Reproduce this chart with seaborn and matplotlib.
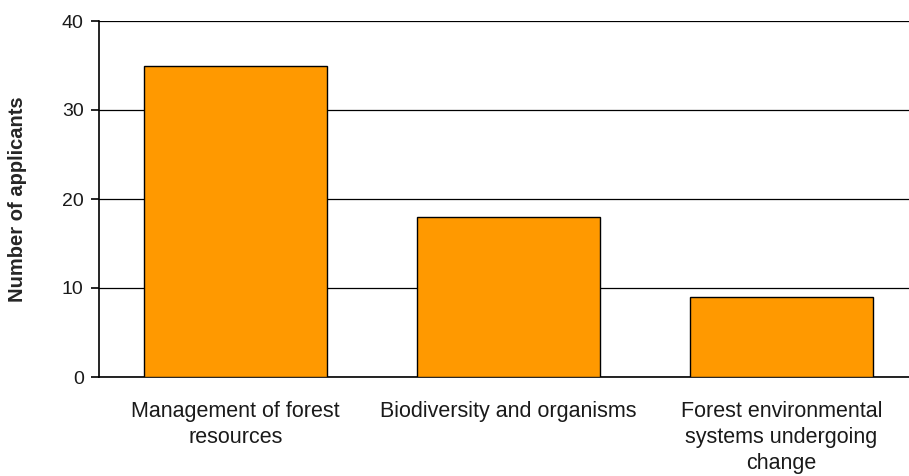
import matplotlib
matplotlib.use("Agg")
import matplotlib.pyplot as plt
import seaborn as sns

categories = ["Management of forest\nresources",
              "Biodiversity and organisms",
              "Forest environmental\nsystems undergoing\nchange"]
applicants = [35, 18, 9]
y_ticks = [0, 10, 20, 30, 40]

sns.set_style("white")
plt.rcParams["font.family"] = ["Liberation Sans", "DejaVu Sans"]

fig = plt.figure(figsize=(9.09, 4.76), dpi=100)
# axes right edge runs slightly past the figure, like the cropped original
ax = fig.add_axes([99 / 909, 1 - 377 / 476, 819 / 909, 356 / 476])

sns.barplot(x=categories, y=applicants, color="#FF9900", saturation=1,
            edgecolor="black", linewidth=1.0, width=0.67, ax=ax, zorder=3)

ax.set_xlim(-0.5, 2.5)
ax.set_ylim(0, 40)
ax.set_yticks(y_ticks)
ax.yaxis.grid(True, color="black", linewidth=0.9, zorder=0)
ax.set_axisbelow(True)

for side in ["top", "right"]:
    ax.spines[side].set_visible(False)
for side in ["left", "bottom"]:
    ax.spines[side].set_color("black")
    ax.spines[side].set_linewidth(1.2)

# category labels at the centres, tick marks on the boundaries
ax.set_xticks([-0.5, 0.5, 1.5, 2.5], minor=True)
ax.tick_params(axis="x", which="major", length=0, pad=17, labelsize=15.5,
               labelcolor="#1a1a1a")
ax.tick_params(axis="x", which="minor", length=7, width=1.2, color="black", direction="out")
ax.tick_params(axis="y", length=6, width=1.2, color="black", direction="out",
               pad=5, labelsize=14, left=True, labelcolor="#1a1a1a")
for lab in ax.get_xticklabels():
    lab.set_linespacing(1.33)
    lab.set_verticalalignment("top")

ax.set_xlabel("")
ax.set_ylabel("Number of applicants", fontsize=14.5, fontweight="bold")
ax.yaxis.set_label_coords(-0.0875, 0.5)

fig.savefig("out.png", dpi=100)
